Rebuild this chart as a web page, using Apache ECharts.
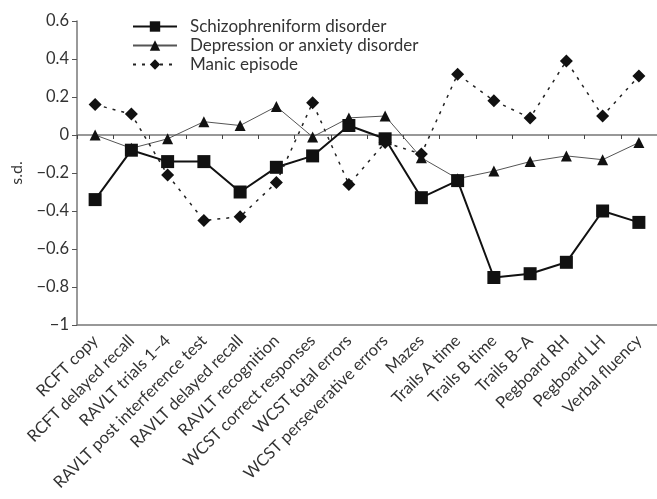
<!DOCTYPE html>
<html><head><meta charset="utf-8">
<script src="https://cdn.jsdelivr.net/npm/echarts@6/dist/echarts.min.js"></script>
<style>html,body{margin:0;padding:0;background:#fff}#c{width:657px;height:499px}</style>
</head><body><div id="c"></div>
<script>
var categories = ["RCFT copy","RCFT delayed recall","RAVLT trials 1–4","RAVLT post interference test","RAVLT delayed recall","RAVLT recognition","WCST correct responses","WCST total errors","WCST perseverative errors","Mazes","Trails A time","Trails B time","Trails B–A","Pegboard RH","Pegboard LH","Verbal fluency"];
var schizophreniform = [-0.34,-0.08,-0.14,-0.14,-0.30,-0.17,-0.11,0.05,-0.02,-0.33,-0.24,-0.75,-0.73,-0.67,-0.40,-0.46];
var depression = [0.00,-0.07,-0.02,0.07,0.05,0.15,-0.01,0.09,0.10,-0.12,-0.23,-0.19,-0.14,-0.11,-0.13,-0.04];
var manic = [0.16,0.11,-0.21,-0.45,-0.43,-0.25,0.17,-0.26,-0.04,-0.10,0.32,0.18,0.09,0.39,0.10,0.31];
var yTicks = {min:-1, max:0.6, interval:0.2};

var font = 'Lato, "Open Sans", sans-serif';
var gridTop = 21, gridBottom = 174, H = 499;
var plotH = H - gridTop - gridBottom;
var zeroY = gridTop + plotH * (yTicks.max - 0) / (yTicks.max - yTicks.min);

var chart = echarts.init(document.getElementById('c'));
chart.setOption({
  backgroundColor:'#fff',
  animation:false,
  textStyle:{fontFamily:font},
  legend:{
    orient:'vertical', left:127, top:13, itemWidth:44, itemHeight:13, itemGap:2,
    textStyle:{fontFamily:font, fontSize:17, color:'#333', padding:[0,0,0,8]},
    data:['Schizophreniform disorder','Depression or anxiety disorder','Manic episode']
  },
  grid:[
    {left:77, right:-9, top:gridTop, bottom:gridBottom},
    {left:77, right:-9, top:gridTop, height:zeroY - gridTop}
  ],
  xAxis:[{
    gridIndex:0, type:'category', data:categories, position:'bottom', boundaryGap:true,
    axisLine:{onZero:false, lineStyle:{color:'#777', width:1.5}},
    axisTick:{show:false},
    axisLabel:{rotate:45, interval:0, fontSize:16.5, color:'#333', fontFamily:font, margin:13}
  },{
    gridIndex:1, type:'value', min:0, max:categories.length, interval:1, position:'bottom',
    axisLine:{show:true, onZero:false, lineStyle:{color:'#777', width:1.5}},
    axisTick:{show:true, length:4, lineStyle:{color:'#444', width:1}},
    axisLabel:{show:false}, splitLine:{show:false}
  }],
  yAxis:[{
    gridIndex:0, type:'value', min:yTicks.min, max:yTicks.max, interval:yTicks.interval,
    name:'s.d.', nameLocation:'middle', nameGap:52, nameRotate:90,
    nameTextStyle:{fontSize:16, color:'#333', fontFamily:font},
    splitLine:{show:false},
    axisLine:{show:true, onZero:false, lineStyle:{color:'#777', width:1.5}},
    axisTick:{show:true, length:5, lineStyle:{color:'#555'}},
    axisLabel:{fontSize:16.5, color:'#333', fontFamily:font, margin:8,
      formatter:function(v){ var s = (Math.round(v*10)/10).toString(); return s.replace('-','\u2212'); }}
  },{
    gridIndex:1, type:'value', show:false, min:0, max:yTicks.max
  }],
  series:[{
    name:'Schizophreniform disorder', type:'line', data:schizophreniform, xAxisIndex:0, yAxisIndex:0,
    symbol:'rect', symbolSize:13,
    lineStyle:{color:'#111', width:2}, itemStyle:{color:'#111'}
  },{
    name:'Depression or anxiety disorder', type:'line', data:depression, xAxisIndex:0, yAxisIndex:0,
    symbol:'triangle', symbolSize:11,
    lineStyle:{color:'#555', width:1}, itemStyle:{color:'#111'}
  },{
    name:'Manic episode', type:'line', data:manic, xAxisIndex:0, yAxisIndex:0,
    symbol:'diamond', symbolSize:13,
    lineStyle:{color:'#222', width:1.5, type:[3,6]}, itemStyle:{color:'#111'}
  }]
});
</script></body></html>
